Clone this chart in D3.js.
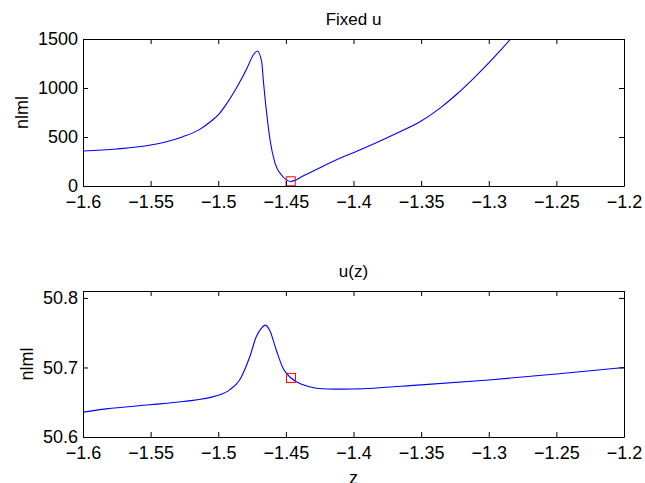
<!DOCTYPE html>
<html>
<head>
<meta charset="utf-8">
<script src="https://cdnjs.cloudflare.com/ajax/libs/d3/7.8.5/d3.min.js"></script>
<style>
  body { margin: 0; background: #fff; }
  svg text { font-family: "Liberation Sans", Arial, sans-serif; fill: #000; }
</style>
</head>
<body>
<svg id="chart" width="645" height="483"></svg>
<script>
// top panel: nlml with fixed u
const topZ = [-1.600, -1.5753, -1.550, -1.5384, -1.5261, -1.5137, -1.5063, -1.500, -1.494, -1.4866,
  -1.479, -1.4741, -1.4711, -1.4679, -1.4667, -1.4642, -1.4617, -1.458, -1.4531, -1.4494,
  -1.4464, -1.4432, -1.4396, -1.4346, -1.4248, -1.405, -1.3996, -1.3804, -1.3681, -1.3499,
  -1.336, -1.3237, -1.3114, -1.2998, -1.2917, -1.2838];
const topNlml = [357, 378, 418, 452, 503, 578, 650, 725, 835, 1000,
  1195, 1337, 1378, 1268, 1082, 742, 469, 231, 110, 60,
  46, 58, 85, 120, 187, 313, 343, 459, 538, 663,
  795, 936, 1096, 1258, 1378, 1500];

// bottom panel: nlml with u(z)
const botZ = [-1.600, -1.5828, -1.5507, -1.5261, -1.5014, -1.4916, -1.4842, -1.4767, -1.4719, -1.4682,
  -1.4652, -1.462, -1.4571, -1.4521, -1.446, -1.4373, -1.4275, -1.4127, -1.400, -1.350,
  -1.300, -1.250, -1.200];
const botNlml = [50.6358, 50.6405, 50.6463, 50.651, 50.6592, 50.6678, 50.6821, 50.7155, 50.7441, 50.7561,
  50.7609, 50.7537, 50.7251, 50.6989, 50.6845, 50.675, 50.6702, 50.6688, 50.669, 50.675,
  50.682, 50.6907, 50.700];

// red square markers (selected z)
const markTop = [-1.4464, 48];
const markBot = [-1.4462, 50.685];

const xTicks = [-1.6, -1.55, -1.5, -1.45, -1.4, -1.35, -1.3, -1.25, -1.2];
const topYTicks = [0, 500, 1000, 1500];
const botYTicks = [50.6, 50.7, 50.8];

const svg = d3.select("#chart");
svg.append("rect").attr("width", 645).attr("height", 483).attr("fill", "#fff");

const left = 83, right = 624;
const fmt = d => String(d).replace("-", "\u2212");

function panel(opts) {
  const x = d3.scaleLinear().domain([-1.6, -1.2]).range([left, right]);
  const y = d3.scaleLinear().domain(opts.yDomain).range([opts.bottom, opts.top]);
  const g = svg.append("g");

  // clip so the curve stops at the frame
  const clipId = "clip" + opts.top;
  svg.append("clipPath").attr("id", clipId)
    .append("rect").attr("x", left).attr("y", opts.top)
    .attr("width", right - left).attr("height", opts.bottom - opts.top);

  const line = d3.line().curve(d3.curveMonotoneX).x(d => x(d[0])).y(d => y(d[1]));
  g.append("path")
    .datum(d3.zip(opts.zs, opts.vals))
    .attr("clip-path", `url(#${clipId})`)
    .attr("fill", "none")
    .attr("stroke", "#0000ff")
    .attr("stroke-width", 1.1)
    .attr("d", line);

  g.append("rect")
    .attr("x", x(opts.mark[0]) - 4.5).attr("y", y(opts.mark[1]) - 4.5)
    .attr("width", 9).attr("height", 9)
    .attr("fill", "none").attr("stroke", "#ff0000").attr("stroke-width", 1);

  // axes, ticks pointing inward on all four sides
  const ax = [
    [d3.axisBottom(x).tickValues(xTicks).tickFormat(fmt).tickPadding(9), `translate(0,${opts.bottom})`],
    [d3.axisTop(x).tickValues(xTicks).tickFormat(""), `translate(0,${opts.top})`],
    [d3.axisLeft(y).tickValues(opts.yTicks).tickFormat(fmt).tickPadding(5), `translate(${left},0)`],
    [d3.axisRight(y).tickValues(opts.yTicks).tickFormat(""), `translate(${right},0)`]
  ];
  ax.forEach(([a, t]) => {
    const s = g.append("g").attr("transform", t)
      .call(a.tickSizeInner(-5).tickSizeOuter(0));
    s.select(".domain").attr("stroke", "#000");
    s.selectAll(".tick line").attr("stroke", "#000");
    s.selectAll("text").attr("font-size", 18).attr("font-family", "Liberation Sans, Arial, sans-serif");
  });

  g.append("text")
    .attr("x", (left + right) / 2).attr("y", opts.top - 14)
    .attr("text-anchor", "middle").attr("font-size", 17)
    .text(opts.title);

  g.append("text")
    .attr("transform", `translate(${opts.ylabX},${(opts.top + opts.bottom) / 2}) rotate(-90)`)
    .attr("text-anchor", "middle").attr("font-size", 18)
    .text("nlml");
  return x;
}

panel({ top: 39, bottom: 186, yDomain: [0, 1500], yTicks: topYTicks,
  zs: topZ, vals: topNlml, mark: markTop, title: "Fixed u", ylabX: 28 });
panel({ top: 291, bottom: 437, yDomain: [50.6, 50.81], yTicks: botYTicks,
  zs: botZ, vals: botNlml, mark: markBot, title: "u(z)", ylabX: 33 });

svg.append("text")
  .attr("x", (left + right) / 2).attr("y", 484)
  .attr("text-anchor", "middle").attr("font-size", 18)
  .text("z");
</script>
</body>
</html>
